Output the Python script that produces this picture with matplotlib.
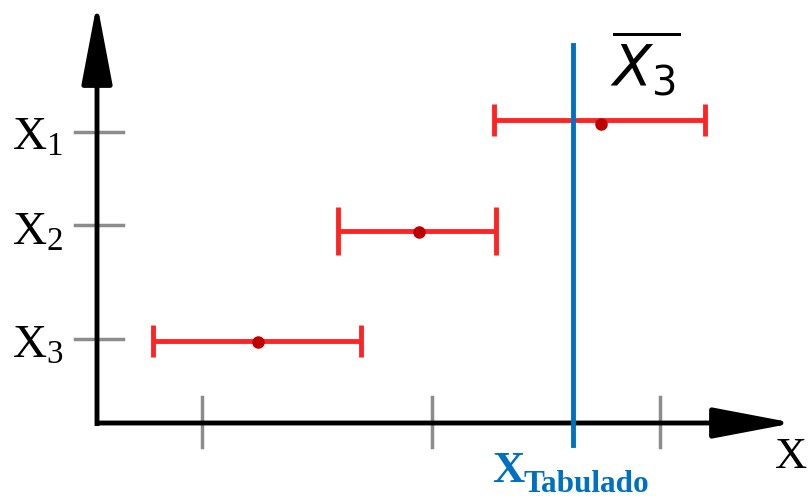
import numpy as np
import matplotlib
matplotlib.use("Agg")
import matplotlib.pyplot as plt

plt.rcParams['mathtext.fontset'] = 'custom'
plt.rcParams['mathtext.rm'] = 'Liberation Serif'
plt.rcParams['mathtext.it'] = 'Liberation Serif:italic'
plt.rcParams['mathtext.bf'] = 'Liberation Serif:bold'

# Datos (unidades arbitrarias, origen en el cruce de los ejes)
etiquetas = [r'$\mathrm{X}_1$', r'$\mathrm{X}_2$', r'$\mathrm{X}_3$']
y_marcas = [292, 199, 85]          # posicion de cada X_i en el eje vertical
y_etiquetas = [274, 179, 66]       # linea base del texto
x_izq = [397, 241, 56]             # extremo izquierdo del intervalo
x_der = [608, 399, 264]            # extremo derecho del intervalo
x_media = [504, 322, 161]          # punto medio (media muestral)
y_barra = [304, 193, 83]
y_punto = [300, 192, 82]
tapa = [11.5, 17.5, 11.5]          # tamaño de los topes
x_marcas = [105, 335, 563]
x_tabulado = 476

rojo = '#ff2424'
azul = '#0070c0'
gris = '#8c8c8c'

fig = plt.figure(figsize=(8.09, 4.99), dpi=100)
ax = fig.add_axes([0, 0, 1, 1])
ax.set_xlim(-97, 712)
ax.set_ylim(-75, 424)
ax.axis('off')

# marcas grises de los ejes
for ym in y_marcas:
    ax.plot([-22, 26], [ym, ym], color=gris, lw=2.5, zorder=1)
for xm in x_marcas:
    ax.plot([xm, xm], [27, -23], color=gris, lw=2.5, zorder=1)

# ejes con flecha
flecha = dict(arrowstyle='-|>,head_length=1.0,head_width=0.19', lw=3.5,
              color='black', shrinkA=0, shrinkB=0, mutation_scale=50,
              capstyle='butt')
ax.annotate('', xy=(0, 421), xytext=(0, -2), arrowprops=flecha, zorder=2)
ax.annotate('', xy=(697, 1), xytext=(-2, 1), arrowprops=flecha, zorder=2)

# intervalos de confianza
for i in range(3):
    centro = (x_izq[i] + x_der[i]) / 2
    semi = (x_der[i] - x_izq[i]) / 2
    ax.errorbar(centro, y_barra[i], xerr=semi, fmt='none', ecolor=rojo,
                elinewidth=3.5, capsize=tapa[i], capthick=3.5, zorder=3)
    ax.plot(x_media[i], y_punto[i], 'o', color='#c00000', ms=8, zorder=4)

# valor tabulado
ax.plot([x_tabulado, x_tabulado], [379, -21], color=azul, lw=3.5, zorder=5)

# textos
for lab, yl in zip(etiquetas, y_etiquetas):
    ax.text(-85, yl, lab, fontsize=34, va='baseline', ha='left')
ax.text(678, -44, 'X', fontsize=32, va='baseline', ha='left',
        family='Liberation Serif')
ax.text(395, -58, 'X', fontsize=32, va='baseline', ha='left',
        family='Liberation Serif', weight='bold', color=azul)
ax.text(426, -68, 'Tabulado', fontsize=22.5, va='baseline', ha='left',
        family='Liberation Serif', weight='bold', color=azul)
ax.text(513, 336, r'$\overline{X_3}$', fontsize=41, va='baseline', ha='left',
        math_fontfamily='dejavusans')

plt.savefig('out.png', dpi=100)
